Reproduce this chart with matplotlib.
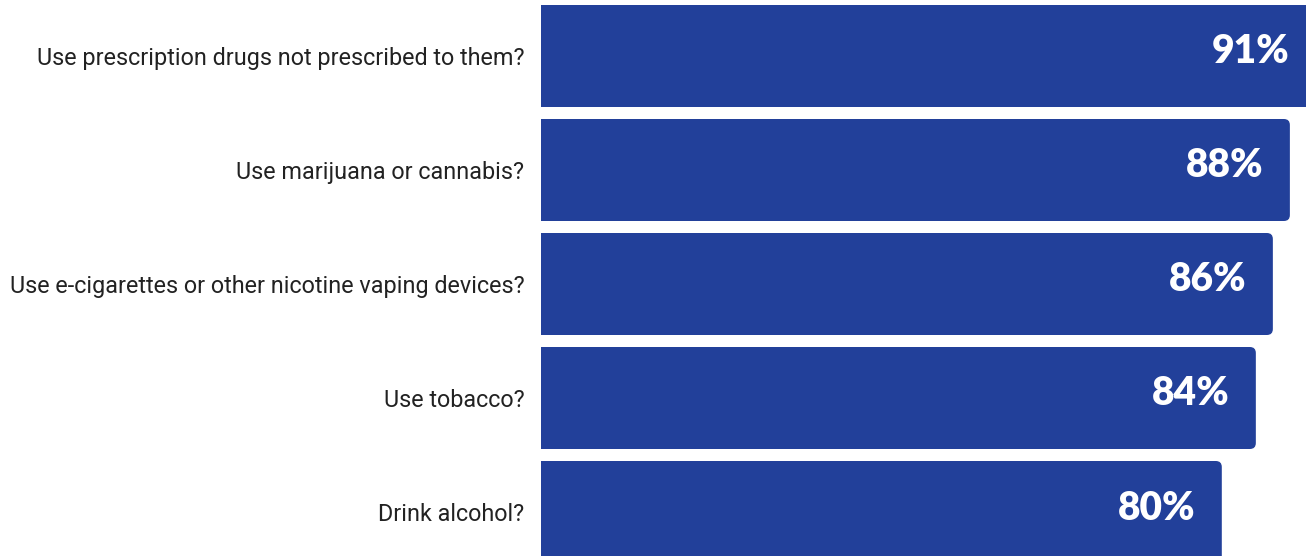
import matplotlib
matplotlib.use("Agg")
import matplotlib.pyplot as plt
from matplotlib.patches import FancyBboxPatch, Rectangle

questions = [
    "Use prescription drugs not prescribed to them?",
    "Use marijuana or cannabis?",
    "Use e-cigarettes or other nicotine vaping devices?",
    "Use tobacco?",
    "Drink alcohol?",
]
shares = [91, 88, 86, 84, 80]

bar_color = "#22409a"
W, H = 1306, 556

fig = plt.figure(figsize=(W / 100, H / 100), dpi=100)
ax = fig.add_axes([541 / W, 0, 1 - 541 / W, 1])

xmax = 765 / 8.51
ax.set_xlim(0, xmax)
ax.set_ylim(4 + 44 / 114, -56 / 114)

bh = 102 / 114
# corner radius in data units (about 6 px each way)
rx = 6 / 8.51
ry = 6 / 114
for i, v in enumerate(shares):
    y0 = i - bh / 2
    box = FancyBboxPatch((0, y0), v, bh,
                         boxstyle="round,pad=0,rounding_size=%f" % rx,
                         mutation_aspect=ry / rx,
                         fc=bar_color, ec="none", clip_on=True)
    ax.add_patch(box)
    ax.add_patch(Rectangle((0, y0), v / 2, bh, fc=bar_color, ec="none"))
    ax.annotate("%d%%" % v, xy=(v, i), xytext=(-26, 4), textcoords="offset pixels",
                ha="right", va="center", color="white", fontsize=28,
                fontweight="heavy", family="Lato", annotation_clip=False)

ax.set_yticks(range(len(questions)))
ax.set_yticklabels(questions, fontsize=16.8, family="Roboto", color="#222222")
ax.tick_params(axis="y", length=0, pad=12)
ax.set_xticks([])
for s in ax.spines.values():
    s.set_visible(False)

fig.savefig("out.png", dpi=100, facecolor="white")
